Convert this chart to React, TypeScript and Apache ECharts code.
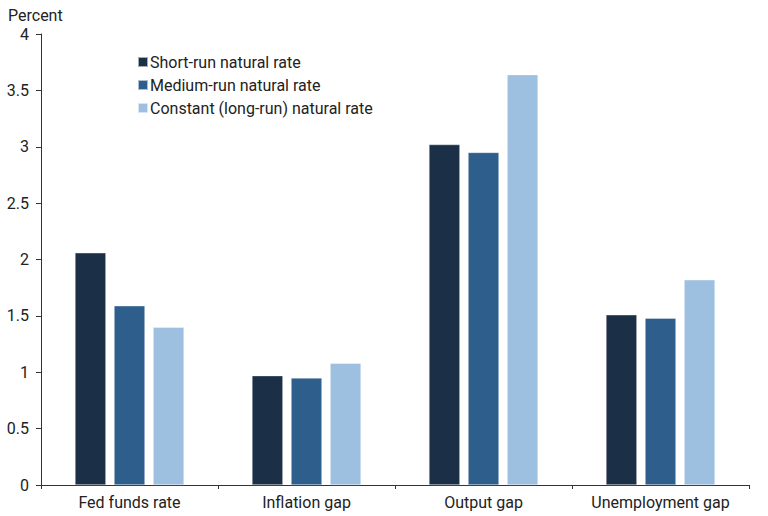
import * as echarts from "echarts"
import { useEffect, useRef } from "react"

const categories = ["Fed funds rate", "Inflation gap", "Output gap", "Unemployment gap"]
const seriesNames = ["Short-run natural rate", "Medium-run natural rate", "Constant (long-run) natural rate"]
const shortRun = [2.06, 0.97, 3.02, 1.51]
const mediumRun = [1.59, 0.95, 2.95, 1.48]
const longRun = [1.4, 1.08, 3.64, 1.82]
const colors = ["#1b3047", "#2e5e8b", "#9dbfe0"]

const font = "Roboto, 'Noto Sans', sans-serif"

export default function App() {
  const ref = useRef<HTMLDivElement>(null)

  useEffect(() => {
    document.body.style.margin = "0"
    if (!ref.current) return
    const chart = echarts.init(ref.current, undefined, { renderer: "svg" })

    const values = [shortRun, mediumRun, longRun]

    chart.setOption({
      animation: false,
      textStyle: { fontFamily: font },
      grid: { top: 34, right: 19, bottom: 31, left: 41 },
      graphic: [
        {
          type: "text",
          left: 8,
          top: 7,
          style: { text: "Percent", fontSize: 16, fill: "#222", fontFamily: font },
        },
      ],
      legend: {
        orient: "vertical",
        left: 132,
        top: 48,
        itemWidth: 10,
        itemHeight: 10,
        itemGap: 5,
        icon: "rect",
        textStyle: { color: "#222", fontSize: 16, padding: [0, 0, 0, -3], lineHeight: 18 },
        data: seriesNames,
      },
      xAxis: {
        type: "category",
        data: categories,
        axisLine: { lineStyle: { color: "#333", width: 1 } },
        axisTick: { show: true, interval: 0, length: 4, lineStyle: { color: "#333" } },
        axisLabel: { color: "#222", fontSize: 16, margin: 9, interval: 0 },
      },
      yAxis: {
        type: "value",
        min: 0,
        max: 4,
        interval: 0.5,
        splitLine: { show: false },
        axisLine: { show: true, lineStyle: { color: "#333", width: 1 } },
        axisTick: { show: true, length: 5, lineStyle: { color: "#333" } },
        axisLabel: { color: "#222", fontSize: 16, margin: 12 },
      },
      series: seriesNames.map((name, i) => ({
        name,
        type: "bar",
        data: values[i],
        barWidth: 31,
        barGap: "26%",
        itemStyle: { color: colors[i], borderColor: "rgba(255,255,255,0.6)", borderWidth: 0.6 },
      })),
    })

    return () => {
      chart.dispose()
    }
  }, [])

  return <div ref={ref} style={{ width: 768, height: 516 }} />
}
